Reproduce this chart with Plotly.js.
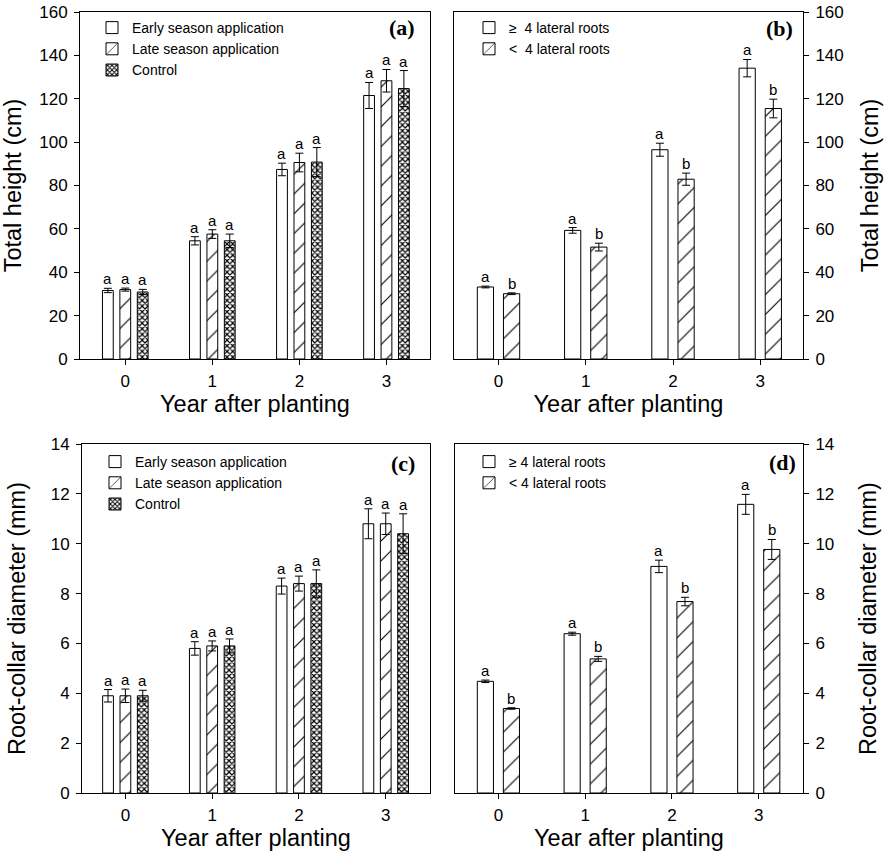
<!DOCTYPE html>
<html><head><meta charset="utf-8">
<script src="https://cdn.plot.ly/plotly-3.0.1.min.js"></script>
<style>html,body{margin:0;padding:0;background:#fff;} #chart{width:887px;height:852px;}</style>
</head><body><div id="chart"></div>
<script>
// ---- data ----
const years = [0, 1, 2, 3];
const yearLabels = ['0', '1', '2', '3'];

// (a) Total height (cm), application timing
const heightEarly = [31.6, 54.5, 87.4, 121.5];
const heightEarlyErr = [1.0, 1.9, 2.9, 6.0];
const heightLate = [32.0, 57.6, 90.6, 128.3];
const heightLateErr = [0.7, 2.0, 4.3, 5.2];
const heightControl = [30.9, 54.5, 90.8, 124.7];
const heightControlErr = [1.2, 3.1, 6.7, 8.3];
const heightEarlyLetters = ['a', 'a', 'a', 'a'];
const heightLateLetters = ['a', 'a', 'a', 'a'];
const heightControlLetters = ['a', 'a', 'a', 'a'];

// (b) Total height (cm), lateral roots
const heightMany = [33.2, 59.3, 96.5, 134.1];
const heightManyErr = [0.4, 1.3, 3.0, 4.0];
const heightFew = [30.1, 51.6, 82.9, 115.5];
const heightFewErr = [0.4, 1.8, 2.8, 4.3];
const heightManyLetters = ['a', 'a', 'a', 'a'];
const heightFewLetters = ['b', 'b', 'b', 'b'];

// (c) Root-collar diameter (mm), application timing
const diamEarly = [3.9, 5.8, 8.3, 10.8];
const diamEarlyErr = [0.25, 0.27, 0.32, 0.6];
const diamLate = [3.9, 5.9, 8.4, 10.8];
const diamLateErr = [0.27, 0.2, 0.3, 0.43];
const diamControl = [3.9, 5.9, 8.4, 10.4];
const diamControlErr = [0.22, 0.28, 0.55, 0.8];
const diamEarlyLetters = ['a', 'a', 'a', 'a'];
const diamLateLetters = ['a', 'a', 'a', 'a'];
const diamControlLetters = ['a', 'a', 'a', 'a'];

// (d) Root-collar diameter (mm), lateral roots
const diamMany = [4.48, 6.39, 9.09, 11.58];
const diamManyErr = [0.05, 0.06, 0.25, 0.4];
const diamFew = [3.39, 5.38, 7.68, 9.77];
const diamFewErr = [0.03, 0.1, 0.17, 0.4];
const diamManyLetters = ['a', 'a', 'a', 'a'];
const diamFewLetters = ['b', 'b', 'b', 'b'];

const namesApp = ['Early season application', 'Late season application', 'Control'];
const namesRootsB = ['\u2265  4 lateral roots', '<  4 lateral roots'];
const namesRootsD = ['\u2265 4 lateral roots', '< 4 lateral roots'];

// ---- styles ----
const FONT = 'Liberation Sans, Arial, sans-serif';
const BARGAP = 0.4;
const patOpen = {shape: ''};
const patHatch = {shape: '/', fgcolor: 'black', bgcolor: 'white', size: 14, solidity: 0.08};
const patCross = {shape: 'x', fgcolor: 'black', bgcolor: 'white', size: 4, solidity: 0.5};

function bar(xa, ya, y, err, name, pat, legend, showlegend) {
  return {
    type: 'bar', x: years, y: y, name: name, xaxis: xa, yaxis: ya,
    legend: legend, showlegend: showlegend,
    marker: {color: 'white', line: {color: 'black', width: 1}, pattern: pat},
    error_y: {type: 'data', array: err, visible: true, color: 'black', thickness: 1, width: 4},
    hoverinfo: 'skip'
  };
}

const traces = [
  bar('x', 'y', heightEarly, heightEarlyErr, namesApp[0], patOpen, 'legend', true),
  bar('x', 'y', heightLate, heightLateErr, namesApp[1], patHatch, 'legend', true),
  bar('x', 'y', heightControl, heightControlErr, namesApp[2], patCross, 'legend', true),
  bar('x2', 'y2', heightMany, heightManyErr, namesRootsB[0], patOpen, 'legend2', true),
  bar('x2', 'y2', heightFew, heightFewErr, namesRootsB[1], patHatch, 'legend2', true),
  bar('x3', 'y3', diamEarly, diamEarlyErr, namesApp[0], patOpen, 'legend3', true),
  bar('x3', 'y3', diamLate, diamLateErr, namesApp[1], patHatch, 'legend3', true),
  bar('x3', 'y3', diamControl, diamControlErr, namesApp[2], patCross, 'legend3', true),
  bar('x4', 'y4', diamMany, diamManyErr, namesRootsD[0], patOpen, 'legend4', true),
  bar('x4', 'y4', diamFew, diamFewErr, namesRootsD[1], patHatch, 'legend4', true)
];

// significance letters placed above the error bars, at the bar group offsets
const annotations = [];
function letters(xref, yref, vals, errs, lets, idx, n) {
  const slot = (1 - BARGAP) / n;
  const off = (idx - (n - 1) / 2) * slot;
  vals.forEach((v, i) => {
    annotations.push({xref: xref, yref: yref, x: years[i] + off, y: v + errs[i],
      text: lets[i], showarrow: false, yanchor: 'bottom', yshift: -1,
      font: {family: FONT, size: 15, color: 'black'}});
  });
}
letters('x', 'y', heightEarly, heightEarlyErr, heightEarlyLetters, 0, 3);
letters('x', 'y', heightLate, heightLateErr, heightLateLetters, 1, 3);
letters('x', 'y', heightControl, heightControlErr, heightControlLetters, 2, 3);
letters('x2', 'y2', heightMany, heightManyErr, heightManyLetters, 0, 2);
letters('x2', 'y2', heightFew, heightFewErr, heightFewLetters, 1, 2);
letters('x3', 'y3', diamEarly, diamEarlyErr, diamEarlyLetters, 0, 3);
letters('x3', 'y3', diamLate, diamLateErr, diamLateLetters, 1, 3);
letters('x3', 'y3', diamControl, diamControlErr, diamControlLetters, 2, 3);
letters('x4', 'y4', diamMany, diamManyErr, diamManyLetters, 0, 2);
letters('x4', 'y4', diamFew, diamFewErr, diamFewLetters, 1, 2);

// panel labels
const panelLabels = [['x', 'y', '(a)', 0.963, 0.954], ['x2', 'y2', '(b)', 0.977, 0.952],
                     ['x3', 'y3', '(c)', 0.963, 0.943], ['x4', 'y4', '(d)', 0.986, 0.946]];
panelLabels.forEach(p => annotations.push({
  xref: p[0] + ' domain', yref: p[1] + ' domain', x: p[3], y: p[4], text: '<b>' + p[2] + '</b>',
  showarrow: false, xanchor: 'right', yanchor: 'middle',
  font: {family: 'Liberation Serif, Times New Roman, serif', size: 22, color: 'black'}
}));

const W = 887, H = 852;
const px = v => v / W, py = v => 1 - v / H;

function xaxis(d0, d1, r0, r1, anchor) {
  return {domain: [px(d0), px(d1)], range: [r0, r1], anchor: anchor,
    tickmode: 'array', tickvals: years, ticktext: yearLabels,
    ticks: 'outside', ticklen: 5, tickwidth: 1, tickcolor: 'black', ticklabelstandoff: 2,
    showline: true, linecolor: 'black', linewidth: 1, mirror: true,
    showgrid: false, zeroline: false,
    tickfont: {family: FONT, size: 17, color: 'black'},
    title: {text: 'Year after planting', font: {family: FONT, size: 23.5, color: 'black'}, standoff: 4}};
}
function yaxis(d0, d1, rmax, dt, anchor, side, title, standoff) {
  return {domain: [py(d1), py(d0)], range: [0, rmax], dtick: dt, tick0: 0, anchor: anchor, side: side,
    ticks: 'outside', ticklen: 5, tickwidth: 1, tickcolor: 'black', ticklabelstandoff: 3,
    showline: true, linecolor: 'black', linewidth: 1, mirror: true,
    showgrid: false, zeroline: false,
    tickfont: {family: FONT, size: 17, color: 'black'},
    title: {text: title, font: {family: FONT, size: 23.5, color: 'black'}, standoff: standoff}};
}

function legendCfg(x, y) {
  return {x: px(x), y: py(y), xanchor: 'left', yanchor: 'top', bgcolor: 'rgba(0,0,0,0)',
    borderwidth: 0, font: {family: FONT, size: 14, color: 'black'}, traceorder: 'normal'};
}

const layout = {
  width: W, height: H, margin: {l: 0, r: 0, t: 0, b: 0},
  paper_bgcolor: 'white', plot_bgcolor: 'white',
  barmode: 'group', bargap: BARGAP, bargroupgap: 0.38,
  font: {family: FONT, color: 'black'},
  xaxis: xaxis(80, 430, -0.52, 3.50, 'y'),
  yaxis: yaxis(12, 359, 160, 20, 'x', 'left', 'Total height (cm)', 10),
  xaxis2: xaxis(454, 803, -0.51, 3.49, 'y2'),
  yaxis2: yaxis(12, 359, 160, 20, 'x2', 'right', 'Total height (cm)', 18),
  xaxis3: xaxis(82, 430, -0.50, 3.51, 'y3'),
  yaxis3: yaxis(444, 793, 14, 2, 'x3', 'left', 'Root-collar diameter (mm)', 18),
  xaxis4: xaxis(455, 803, -0.50, 3.51, 'y4'),
  yaxis4: yaxis(444, 793, 14, 2, 'x4', 'right', 'Root-collar diameter (mm)', 26),
  legend: legendCfg(92, 12),
  legend2: legendCfg(469, 12),
  legend3: legendCfg(95, 446),
  legend4: legendCfg(469, 446),
  annotations: annotations
};

Plotly.newPlot('chart', traces, layout, {displayModeBar: false, staticPlot: true});
</script></body></html>
